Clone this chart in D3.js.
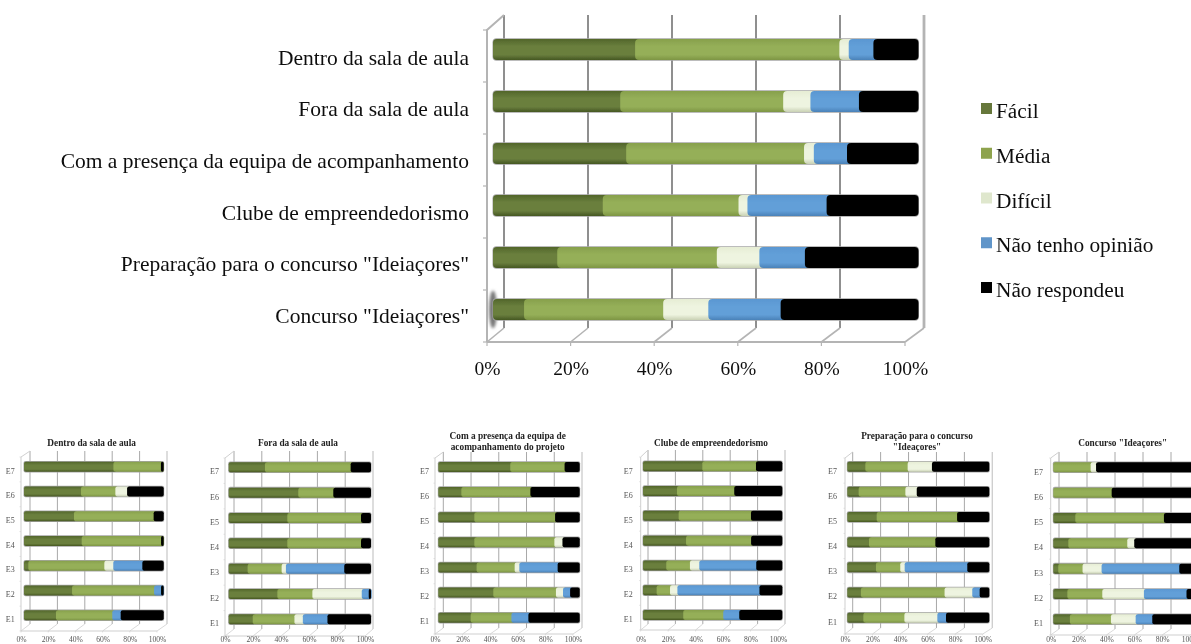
<!DOCTYPE html>
<html><head><meta charset="utf-8">
<script src="https://cdnjs.cloudflare.com/ajax/libs/d3/7.8.5/d3.min.js"></script>
<style>html,body{margin:0;padding:0;background:#fff;overflow:hidden}svg{display:block}text{font-family:"Liberation Serif","Times New Roman",serif}</style>
</head><body><svg id="c" width="1191" height="644"></svg>
<script>
// ---------- data ----------
const seriesNames = ["Fácil","Média","Difícil","Não tenho opinião","Não respondeu"];
const tickValues = [0,20,40,60,80,100];
const mainCategories = ["Dentro da sala de aula","Fora da sala de aula","Com a presença da equipa de acompanhamento","Clube de empreendedorismo","Preparação para o concurso \"Ideiaçores\"","Concurso \"Ideiaçores\""];
const mainValues = [
 [33.4,48.0,2.2,5.8,10.6],
 [29.9,38.3,6.4,11.4,14.0],
 [31.3,41.8,2.3,7.8,16.8],
 [25.8,31.9,2.1,18.6,21.6],
 [15.1,37.5,10.0,10.7,26.7],
 [7.3,32.7,10.6,17.0,32.4]];
const schoolCategories = ["E7","E6","E5","E4","E3","E2","E1"];
const dentroValues = [[64,34,0,0,2],[40.8,24.6,8.4,0,26.2],[35.8,57,0,0,7.2],[41.3,56.8,0,0,1.9],[3.1,54.4,6.4,20.8,15.3],[34.4,58.7,0,5,1.9],[22.9,40.3,0,6,30.8]];
const foraValues = [[25.5,60.2,0,0,14.3],[48.9,24.6,0,0,26.5],[41.2,51.8,0,0,7],[41.2,51.8,0,0,7],[13.3,23.9,3,41,18.8],[34.2,24.6,34.7,4.9,1.6],[16.9,29.3,5.9,17.3,30.6]];
const equipaValues = [[50.9,38.4,0,0,10.7],[16.3,48.8,0,0,34.9],[25.5,57.1,0,0,17.4],[25.5,56.6,5.7,0,12.2],[27.1,26.9,3.3,27.1,15.6],[38.9,44.3,5,5,6.8],[22.9,28.8,0,12,36.3]];
const clubeValues = [[42.6,38.5,0,0,18.9],[24.4,41.1,0,0,34.5],[25.6,51.9,0,0,22.5],[30.9,46.7,0,0,22.4],[16.7,17,6.7,40.9,18.7],[9.8,9.6,5.3,58.9,16.4],[28.9,28.7,0,11.5,30.9]];
const prepValues = [[12.7,29.8,17.1,0,40.4],[8,32.9,8,0,51.1],[20.7,56.6,0,0,22.7],[15.3,46.7,0,0,38],[20.2,17.1,3.1,44.1,15.5],[9.6,58.9,19.5,5.2,6.8],[11.3,28.9,23.2,6.1,30.5]];
const concursoValues = [[0,26.3,3.8,0,69.9],[0,41.1,0,0,58.9],[15.5,62.4,0,0,22.1],[10.6,41.5,4.9,0,43],[3.5,17.1,13.4,54.7,11.3],[9.9,24.6,29.3,30,6.2],[11.7,28.9,17.4,11.7,30.3]];
const panelTitles = [["Dentro da sala de aula"],["Fora da sala de aula"],["Com a presença da equipa de","acompanhamento do projeto"],["Clube de empreendedorismo"],["Preparação para o concurso","\"Ideaçores\""],["Concurso \"Ideaçores\""]];

// ---------- styles ----------
const legendColors = ["#66773a","#8ea34d","#dfe7cd","#6095c9","#000000"];
const gradientStops = [
 ["#52662a","#6a7f3e","#465722"],
 ["#87a04c","#95af58","#7d9544"],
 ["#e6edd4","#eef4e0","#c9d1b4"],
 ["#5a97d2","#629fd8","#4a82b8"],
 ["#000000","#000000","#000000"]];

const svg = d3.select("#c");
const defs = svg.append("defs");
gradientStops.forEach((s,i)=>{
  const g = defs.append("linearGradient").attr("id","g"+i).attr("x1",0).attr("x2",0).attr("y1",0).attr("y2",1);
  [[0,s[0]],[.35,s[1]],[.75,s[1]],[1,s[2]]].forEach(([o,c])=>g.append("stop").attr("offset",o).attr("stop-color",c));
});
[["soft",0.35],["blurry",0.5],["shade",1.8]].forEach(([id,sd])=>{
  defs.append("filter").attr("id",id).attr("x","-20%").attr("y","-20%").attr("width","140%").attr("height","140%")
      .append("feGaussianBlur").attr("stdDeviation",sd);
});

function drawChart(root, cfg, categories, values){
  const g = root.append("g").attr("filter",cfg.filter);
  const fx = d3.scaleLinear().domain([0,100]).range([cfg.f0,cfg.f1]);
  const bx = d3.scaleLinear().domain([0,100]).range([cfg.b0,cfg.b1]);
  const vx = d3.scaleLinear().domain([0,100]).range([cfg.v0,cfg.v1]);
  const step = (cfg.rowLast-cfg.rowFirst)/(categories.length-1);
  const vy = d3.scaleBand().domain(categories).range([cfg.rowFirst-step/2,cfg.rowLast+step/2]);
  const lstep = (cfg.labLast-cfg.labFirst)/(categories.length-1);
  const ly = d3.scaleBand().domain(categories).range([cfg.labFirst-lstep/2,cfg.labLast+lstep/2]);
  const wall = g.append("g").attr("fill","none");
  tickValues.forEach((t,i)=>{
    const last = i===tickValues.length-1;
    wall.append("line").attr("x1",bx(t)).attr("x2",bx(t)).attr("y1",cfg.top).attr("y2",cfg.backBottom)
      .attr("stroke",last?cfg.lightCol:cfg.gridCol).attr("stroke-width",last?cfg.gw*1.4:cfg.gw);
    wall.append("line").attr("x1",bx(t)).attr("x2",fx(t)).attr("y1",cfg.backBottom).attr("y2",cfg.bottom)
      .attr("stroke",cfg.lightCol).attr("stroke-width",cfg.gw*.8);
    wall.append("line").attr("x1",fx(t)).attr("x2",fx(t)).attr("y1",cfg.bottom).attr("y2",cfg.bottom+cfg.tick)
      .attr("stroke",cfg.lightCol).attr("stroke-width",cfg.gw*.6);
  });
  wall.append("line").attr("x1",cfg.f0).attr("x2",cfg.f1).attr("y1",cfg.bottom).attr("y2",cfg.bottom).attr("stroke",cfg.lightCol).attr("stroke-width",cfg.gw);
  wall.append("path").attr("d",`M${cfg.b0},${cfg.top}L${cfg.f0},${cfg.frontTop}L${cfg.f0},${cfg.bottom}`).attr("stroke",cfg.lightCol).attr("stroke-width",cfg.gw);
  d3.range(categories.length+1).forEach(i=>{
    const y = cfg.frontTop+(cfg.bottom-cfg.frontTop)*i/categories.length;
    wall.append("line").attr("x1",cfg.f0-cfg.tick).attr("x2",cfg.f0).attr("y1",y).attr("y2",y).attr("stroke",cfg.lightCol).attr("stroke-width",cfg.gw*.6);
  });
  if(cfg.shade) g.append("ellipse").attr("cx",cfg.v0).attr("cy",vy(categories[categories.length-1])+vy.bandwidth()/2)
      .attr("rx",4).attr("ry",vy.bandwidth()*.36).attr("fill","#777").attr("filter","url(#shade)");
  // stacked bars, one rounded cylinder segment per value
  const h = cfg.barH, rx = cfg.rx;
  const stack = d3.stack().keys(d3.range(seriesNames.length)).value((d,k)=>d[k])(values);
  const rows = g.selectAll("g.row").data(categories).join("g").attr("class","row")
     .attr("transform",d=>`translate(0,${vy(d)+vy.bandwidth()/2-h/2})`);
  rows.append("rect").attr("x",vx(0)-.5).attr("y",-.8).attr("width",vx(100)-vx(0)+1).attr("height",h+1.6).attr("rx",rx).attr("fill","#a6a6a6");
  rows.each(function(c,ri){
    const segs = stack.map((layer,k)=>({k,a:layer[ri][0],b:layer[ri][1]})).filter(s=>s.b>s.a);
    d3.select(this).selectAll("rect.seg").data(segs).join("rect").attr("class","seg")
      .attr("x",s=>vx(s.a)).attr("y",0).attr("height",h).attr("rx",rx)
      .attr("width",(s,i)=>vx(s.b)-vx(s.a)+(i<segs.length-1?rx*1.5:0))
      .attr("fill",s=>`url(#g${s.k})`);
  });
  // value axis labels
  const ax = g.append("g").attr("transform",`translate(0,${cfg.tickY})`)
    .call(d3.axisBottom(fx).tickValues(tickValues).tickFormat(d=>d+"%").tickSize(0));
  ax.select(".domain").remove();
  ax.selectAll("text").attr("y",0).attr("dy","0.32em").attr("font-size",cfg.tickFont).attr("fill",cfg.textCol).attr("font-family","Liberation Serif");
  // category labels
  const ay = g.append("g").attr("transform",`translate(${cfg.labRight},0)`)
    .call(d3.axisLeft(ly).tickSize(0).tickPadding(0));
  ay.select(".domain").remove();
  ay.selectAll("text").attr("font-size",cfg.labFont).attr("fill",cfg.textCol).attr("font-family","Liberation Serif");
  return g;
}

const common = {filter:"url(#blurry)",gw:1,gridCol:"#a8a8a8",lightCol:"#cfcfcf",tick:1.5,barH:10,rx:2,tickFont:7.6,labFont:8,textCol:"#555"};
const panels = [
 {f0:21,f1:157,b0:30,b1:167,v0:24,v1:163.7,top:451,frontTop:457,backBottom:624,bottom:631,rowFirst:466.7,rowLast:615.3,labFirst:471,labLast:619,labRight:14.7,tickY:640,titleX:91.7,titleY:[443]},
 {f0:225,f1:365,b0:234,b1:373,v0:228.7,v1:371,top:451,frontTop:458,backBottom:629,bottom:636,rowFirst:467.3,rowLast:619.3,labFirst:471.7,labLast:623.3,labRight:219,tickY:640,titleX:298,titleY:[443]},
 {f0:435,f1:573,b0:443.3,b1:582,v0:438.3,v1:579.7,top:452,frontTop:458,backBottom:628,bottom:634,rowFirst:467,rowLast:617.7,labFirst:471.7,labLast:621.7,labRight:429,tickY:640,titleX:507.7,titleY:[436,447]},
 {f0:640.7,f1:778,b0:648,b1:785,v0:643,v1:782.3,top:450,frontTop:457,backBottom:624,bottom:630,rowFirst:466.3,rowLast:615,labFirst:471,labLast:619,labRight:632.7,tickY:640,titleX:711,titleY:[443]},
 {f0:845,f1:982.7,b0:852.7,b1:992.3,v0:847.3,v1:989.3,top:452,frontTop:458,backBottom:628,bottom:634,rowFirst:466.7,rowLast:617.7,labFirst:471.3,labLast:622,labRight:837,tickY:640,titleX:917,titleY:[436,447]},
 {f0:1050.7,f1:1190,b0:1059,b1:1199,v0:1053.3,v1:1195.3,top:452,frontTop:458,backBottom:629,bottom:635,rowFirst:467.3,rowLast:619.3,labFirst:472.3,labLast:623.3,labRight:1043,tickY:640,titleX:1122.7,titleY:[443]}
];
const panelValues = [dentroValues,foraValues,equipaValues,clubeValues,prepValues,concursoValues];

drawChart(svg,{filter:"url(#soft)",gw:2,gridCol:"#8f8f8f",lightCol:"#b4b4b4",tick:4,barH:21,rx:4,tickFont:19.5,labFont:21.5,textCol:"#111",shade:true,
  f0:487,f1:905,b0:504,b1:924,v0:493,v1:918.5,top:15,frontTop:30,backBottom:328,bottom:342,
  rowFirst:49.5,rowLast:309.5,labFirst:58,labLast:316,labRight:469,tickY:369},mainCategories,mainValues);

panels.forEach((p,i)=>{
  const g = drawChart(svg,Object.assign({},common,p),schoolCategories,panelValues[i]);
  g.append("g").selectAll("text").data(panelTitles[i]).join("text")
    .attr("x",p.titleX).attr("y",(d,j)=>p.titleY[j]).attr("dy","0.32em")
    .attr("text-anchor","middle").attr("font-size",9.3).attr("font-weight","bold").attr("fill","#222").text(d=>d);
});

// legend
const legendTop = d3.scalePoint().domain(seriesNames).range([103,282]);
const lg = svg.append("g").attr("filter","url(#soft)");
seriesNames.forEach((n,i)=>{
  lg.append("rect").attr("x",981).attr("y",legendTop(n)).attr("width",11).attr("height",11).attr("fill",legendColors[i]);
  lg.append("text").attr("x",996).attr("y",legendTop(n)+15).attr("font-size",21.3).attr("fill","#111").text(n);
});
</script></body></html>
